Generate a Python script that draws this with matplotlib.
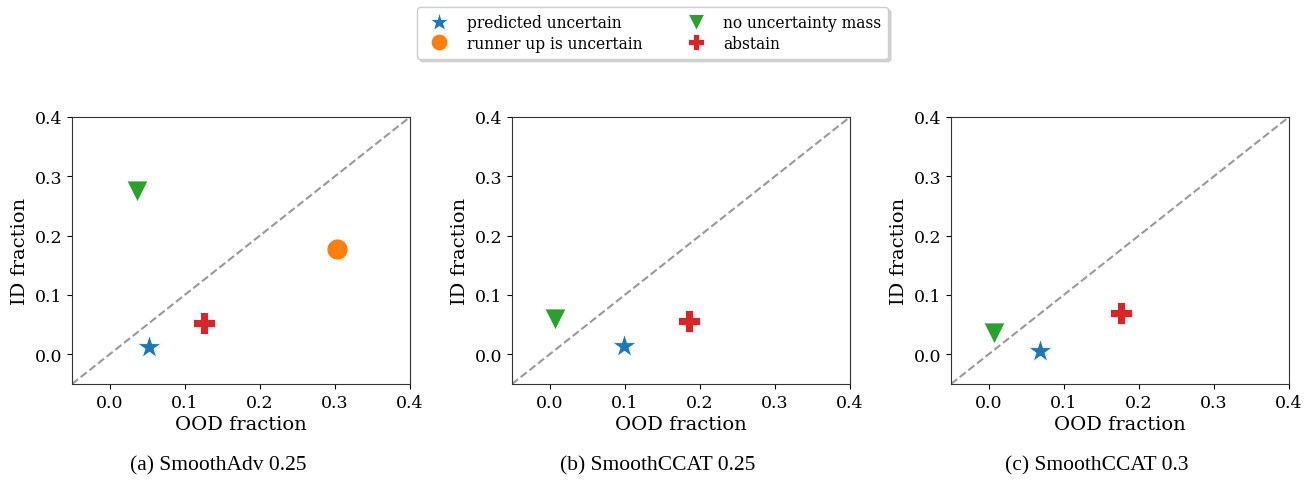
import matplotlib.pyplot as plt
from matplotlib.lines import Line2D

# data
titles = ['(a) SmoothAdv 0.25', '(b) SmoothCCAT 0.25', '(c) SmoothCCAT 0.3']
labels = ['predicted uncertain', 'runner up is uncertain', 'no uncertainty mass', 'abstain']
markers = ['*', 'o', 'v', 'P']
colors = ['#1f77b4', '#ff7f0e', '#2ca02c', '#d62728']

ood_frac = [
    [0.053, 0.303, 0.036, 0.126],
    [0.099, None, 0.007, 0.186],
    [0.069, None, 0.007, 0.176],
]
id_frac = [
    [0.012, 0.178, 0.275, 0.052],
    [0.014, None, 0.060, 0.056],
    [0.005, None, 0.036, 0.070],
]
ticks = [0.0, 0.1, 0.2, 0.3, 0.4]
lims = (-0.05, 0.4)

fig = plt.figure(figsize=(13.05, 4.81), dpi=100)
lefts = [72, 512, 951]
serif = 'DejaVu Serif'

for i, left in enumerate(lefts):
    ax = fig.add_axes([left / 1305, 96 / 481, 338 / 1305, 267 / 481])
    ax.plot(lims, lims, '--', color='gray', alpha=0.8, lw=1.5, zorder=1)
    for j in range(4):
        x, y = ood_frac[i][j], id_frac[i][j]
        if x is None:
            continue
        size = 320 if markers[j] == '*' else 230
        ax.scatter([x], [y], marker=markers[j], s=size, color=colors[j],
                   edgecolor='white', linewidth=0.6, zorder=3)
    ax.set_xlim(lims)
    ax.set_ylim(lims)
    ax.set_xticks(ticks)
    ax.set_yticks(ticks)
    ax.set_xticklabels([f'{t:.1f}' for t in ticks], family=serif, fontsize=12.5)
    ax.set_yticklabels([f'{t:.1f}' for t in ticks], family=serif, fontsize=12.5)
    ax.set_xlabel('OOD fraction', family=serif, fontsize=14, labelpad=3)
    ax.set_ylabel('ID fraction', family=serif, fontsize=14, labelpad=4)
    for sp in ax.spines.values():
        sp.set_color('#333333')
    fig.text((left + 146) / 1305, 1 - 466 / 481, titles[i],
             family='Liberation Serif', fontsize=15.5, ha='center', va='center')

handles = [Line2D([], [], marker=markers[j], ls='', color=colors[j],
                  markeredgecolor='white', markeredgewidth=0.6,
                  markersize=14 if markers[j] == '*' else 12)
           for j in range(4)]
fig.legend(handles, labels, loc='upper center', bbox_to_anchor=(0.5, 1 - 8 / 481),
           borderaxespad=0, ncol=2, shadow={'color': '0.7'}, fancybox=True,
           prop={'family': serif, 'size': 11.2},
           handlelength=2.0, handletextpad=0.75, columnspacing=2.45,
           labelspacing=0.25, borderpad=0.45)

fig.savefig('out.png', dpi=100)
